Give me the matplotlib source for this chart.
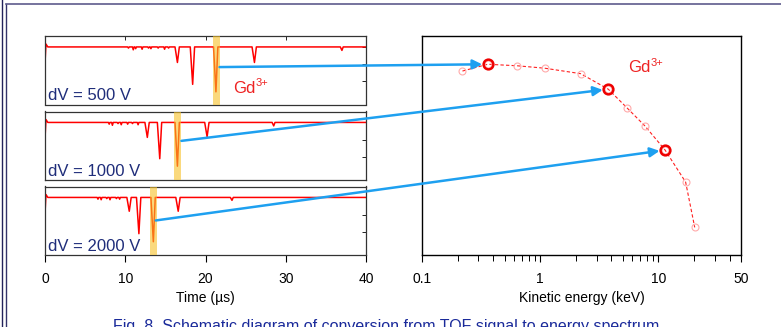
import numpy as np
import matplotlib
matplotlib.use("Agg")
from matplotlib import pyplot as plt
from matplotlib.patches import ConnectionPatch
from matplotlib.lines import Line2D

plt.rcParams['font.family'] = ['Liberation Sans', 'DejaVu Sans']

# --- TOF traces (time in us, signal in arb. units, baseline = 0) ---
voltages = ["dV = 500 V", "dV = 1000 V", "dV = 2000 V"]
start_t = [0.0, 0.12, 0.35]
start_y = [-0.28, 0.05, 0.0]

peaks_500_t = [16.5, 18.4, 21.3, 26.1, 37.0]
peaks_500_d = [0.27, 0.65, 0.78, 0.27, 0.06]
noise_500_t = [10.4, 11.0, 11.3, 12.1, 12.9, 13.2, 14.1, 14.9, 15.4]
noise_500_d = [0.02, 0.05, 0.03, 0.04, 0.02, 0.03, 0.02, 0.04, 0.02]

peaks_1000_t = [12.75, 14.3, 16.5, 20.2, 28.5]
peaks_1000_d = [0.26, 0.63, 0.76, 0.25, 0.06]
noise_1000_t = [8.0, 8.4, 9.1, 9.5, 10.3, 10.9, 11.6]
noise_1000_d = [0.03, 0.05, 0.02, 0.04, 0.03, 0.02, 0.04]

peaks_2000_t = [10.5, 11.7, 13.5, 16.6, 23.3]
peaks_2000_d = [0.24, 0.63, 0.77, 0.24, 0.05]
noise_2000_t = [6.6, 7.0, 7.7, 8.1, 8.9, 9.3]
noise_2000_d = [0.03, 0.04, 0.02, 0.04, 0.02, 0.03]

# Gd3+ gate (us) and arrow start on each trace
gd_lo = [20.9, 16.1, 13.1]
gd_hi = [21.75, 17.0, 13.9]
arrow_t = [21.75, 17.0, 13.8]
arrow_y = [-0.35, -0.32, -0.40]

# --- energy spectrum ---
energy = [0.22, 0.36, 0.64, 1.09, 2.2, 3.77, 5.4, 7.7, 11.4, 17.0, 20.3]
counts = [0.840, 0.871, 0.864, 0.853, 0.828, 0.757, 0.673, 0.589, 0.479, 0.333, 0.126]
selected = [1, 5, 8]

peaks_t = [peaks_500_t, peaks_1000_t, peaks_2000_t]
peaks_d = [peaks_500_d, peaks_1000_d, peaks_2000_d]
noise_t = [noise_500_t, noise_1000_t, noise_2000_t]
noise_d = [noise_500_d, noise_1000_d, noise_2000_d]


def trace(pt, pd, nt, nd):
    pts = list(zip(start_t, start_y)) + [(40.0, 0.0)]
    for t, d in zip(pt, pd):
        w = 0.2 if d < 0.1 else 0.3
        pts += [(t - w, 0.0), (t, -d), (t + w * 0.8, 0.0)]
    for t, d in zip(nt, nd):
        pts += [(t - 0.1, 0.0), (t, -d), (t + 0.1, 0.0)]
    pts.sort()
    return [p[0] for p in pts], [p[1] for p in pts]


def gd_label(ax, x, y):
    t = ax.text(x, y, 'Gd', color='#ee2222', fontsize=12, va='center', ha='left')
    ax.annotate('3+', xy=(1.02, 0.5), xycoords=t, color='#ee2222', fontsize=8,
                va='bottom', ha='left')


fig = plt.figure(figsize=(7.81, 3.27), dpi=100)

navy = '#1f2d7a'
blue = '#1ea0f0'
left_axes = []
tops = [36, 111.5, 186.5]
for i in range(3):
    top = tops[i]
    ax = fig.add_axes([45 / 781, 1 - (top + 68.5) / 327, 321 / 781, 68.5 / 327])
    x, y = trace(peaks_t[i], peaks_d[i], noise_t[i], noise_d[i])
    ax.plot(x, y, color='#ff0000', lw=1.1, zorder=2)
    ax.axvspan(gd_lo[i], gd_hi[i], color='#f7c126', alpha=0.6, lw=0, zorder=3)
    ax.set_xlim(0, 40)
    ax.set_ylim(-1.0, 0.19)
    ax.text(0.4, -0.98, voltages[i], color=navy, fontsize=12, va='bottom', ha='left')
    ax.set_yticks([0, -0.3, -0.6])
    ax.tick_params(axis='y', left=False, labelleft=False, right=True,
                   direction='in', length=3, width=0.6)
    ax.set_xticks([0, 10, 20, 30, 40])
    for s in ax.spines.values():
        s.set_color('#333333')
        s.set_linewidth(0.9)
    if i < 2:
        ax.tick_params(axis='x', bottom=False, labelbottom=False,
                       top=(i == 0), direction='in', length=3, width=0.6)
    else:
        ax.tick_params(axis='x', direction='out', length=5, width=0.8,
                       labelsize=10, pad=7)
        ax.set_xlabel('Time (µs)', fontsize=10, labelpad=4)
    left_axes.append(ax)

gd_label(left_axes[0], 23.4, -0.72)

# energy panel
axr = fig.add_axes([422 / 781, 1 - 255 / 327, 319 / 781, 219 / 327])
axr.plot(energy, counts, color='#ff2020', lw=0.8, dashes=(3, 2), zorder=1)
axr.plot(energy, counts, 'o', ms=5, mfc='none', mec='#ffaaaa', mew=0.8, zorder=2)
axr.plot([energy[k] for k in selected], [counts[k] for k in selected], 'o', ms=7,
         mfc='none', mec='#ee0000', mew=1.8, zorder=3)
axr.set_xscale('log')
axr.set_xlim(0.1, 50)
axr.set_ylim(0, 1)
axr.set_yticks([])
axr.set_xticks([0.1, 1, 10, 50])
axr.set_xticklabels(['0.1', '1', '10', '50'])
axr.tick_params(axis='x', which='major', direction='out', length=5, width=0.8,
                labelsize=10, pad=7)
axr.tick_params(axis='x', which='minor', direction='out', length=4, width=0.7)
axr.set_xlabel('Kinetic energy (keV)', fontsize=10, labelpad=4)
for s in axr.spines.values():
    s.set_linewidth(1.0)
gd_label(axr, 5.5, 0.855)

# arrows TOF -> energy
for i, k in enumerate(selected):
    con = ConnectionPatch(xyA=(arrow_t[i], arrow_y[i]), coordsA=left_axes[i].transData,
                          xyB=(energy[k], counts[k]), coordsB=axr.transData,
                          arrowstyle='-|>', color=blue, lw=1.8, mutation_scale=14,
                          shrinkA=0, shrinkB=4, zorder=10)
    fig.add_artist(con)

# page frame
fig.add_artist(Line2D([1.5 / 781, 1.5 / 781], [0, 1], color='#22225a', lw=1.0))
fig.add_artist(Line2D([6 / 781, 6 / 781], [0, 1 - 4 / 327], color='#33336a', lw=1.0))
fig.add_artist(Line2D([6 / 781, 1], [1 - 4 / 327, 1 - 4 / 327], color='#5d5b8c', lw=1.2))

# caption, cut by the lower edge as in the source page
fig.text(386 / 781, 1 - 319 / 327,
         'Fig. 8. Schematic diagram of conversion from TOF signal to energy spectrum',
         color='#1a2a9a', fontsize=11.5, ha='center', va='top')

fig.savefig('out.png', dpi=100)
